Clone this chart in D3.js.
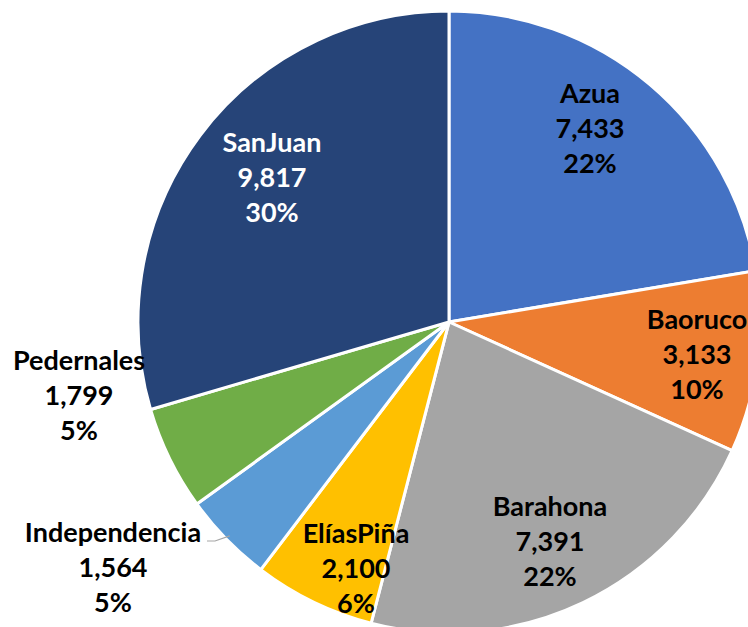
<!DOCTYPE html>
<html>
<head>
<meta charset="utf-8">
<script src="https://cdn.jsdelivr.net/npm/d3@7"></script>
<style>
  html, body { margin: 0; padding: 0; background: #fff; overflow: hidden; }
  svg { display: block; }
  text { font-family: Lato, "Open Sans", sans-serif; font-weight: 700; font-size: 27px; }
</style>
</head>
<body>
<svg id="chart" width="748" height="627"></svg>
<script>
// Province totals, in drawing order (clockwise from 12 o'clock)
const provinces = ["Azua", "Baoruco", "Barahona", "ElíasPiña", "Independencia", "Pedernales", "SanJuan"];
const totals = [7433, 3133, 7391, 2100, 1564, 1799, 9817];
const colors = ["#4472C4", "#ED7D31", "#A5A5A5", "#FFC000", "#5B9BD5", "#70AD47", "#264478"];
const textColors = ["#000", "#000", "#000", "#000", "#000", "#000", "#fff"];

// Label anchor points (centre of the three-line block)
const labelLayout = {
  "Azua": [590, 128],
  "Baoruco": [697, 354],
  "Barahona": [550, 541],
  "ElíasPiña": [356, 568],
  "Independencia": [113, 567],
  "Pedernales": [79, 395],
  "SanJuan": [272, 177]
};

const cx = 449, cy = 322, R = 311;

const svg = d3.select("#chart");
const g = svg.append("g").attr("transform", `translate(${cx},${cy})`);

const sum = d3.sum(totals);

// Whole-number percentages that add up to 100 (largest remainder)
function roundedShares(vals) {
  const raw = vals.map(v => v / sum * 100);
  const fl = raw.map(Math.floor);
  let left = 100 - d3.sum(fl);
  const order = raw.map((r, i) => [r - fl[i], i]).sort((a, b) => b[0] - a[0]);
  for (let k = 0; k < left; k++) fl[order[k][1]] += 1;
  return fl;
}
const shares = roundedShares(totals);

const data = provinces.map((p, i) => ({ name: p, value: totals[i], pct: shares[i], color: colors[i], tc: textColors[i] }));

const pie = d3.pie().value(d => d.value).sort(null);
const arc = d3.arc().innerRadius(0).outerRadius(R);
const arcs = pie(data);

g.selectAll("path.slice")
  .data(arcs)
  .join("path")
  .attr("class", "slice")
  .attr("d", arc)
  .attr("fill", d => d.data.color)
  .attr("stroke", "#fff")
  .attr("stroke-width", 3)
  .attr("stroke-linejoin", "round");

// Leader line for the small Independencia slice
const ind = arcs.find(a => a.data.name === "Independencia");
const edgeAng = (ind.startAngle + ind.endAngle) / 2;
const ex = R * Math.sin(edgeAng) * 0.985, ey = -R * Math.cos(edgeAng) * 0.985;
const lp = labelLayout["Independencia"];
svg.append("polyline")
  .attr("points", [[lp[0] + 94, lp[1] - 26], [lp[0] + 102, lp[1] - 26], [cx + ex, cy + ey]].map(p => p.join(",")).join(" "))
  .attr("fill", "none")
  .attr("stroke", "#A6A6A6")
  .attr("stroke-width", 1.2);

const fmt = d3.format(",");
const lineGap = 35;

const labels = svg.selectAll("text.lbl")
  .data(arcs)
  .join("text")
  .attr("class", "lbl")
  .attr("text-anchor", "middle")
  .attr("fill", d => d.data.tc)
  .attr("transform", d => `translate(${labelLayout[d.data.name][0]},${labelLayout[d.data.name][1]})`);

labels.each(function(d) {
  const t = d3.select(this);
  const lines = [d.data.name, fmt(d.data.value), d.data.pct + "%"];
  lines.forEach((s, i) => {
    t.append("tspan")
      .attr("x", 0)
      .attr("y", (i - 1) * lineGap)
      .attr("dy", "0.36em")
      .text(s);
  });
});
</script>
</body>
</html>
